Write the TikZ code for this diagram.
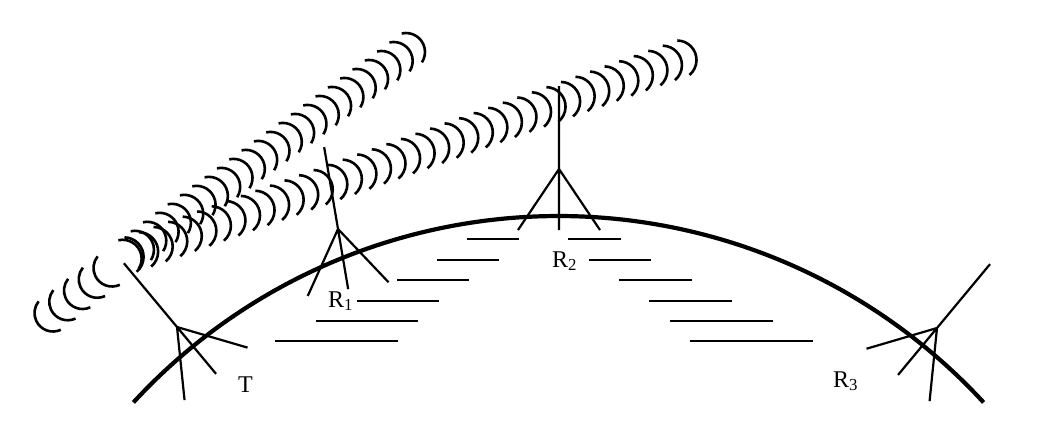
\documentclass[tikz,border=0pt]{standalone}
\usepackage{fontspec}
\setmainfont{Liberation Serif}
\begin{document}
\begin{tikzpicture}[x=1pt,y=1pt,yscale=-1,
  stroke/.style={line width=2.2pt},
  earth/.style={line width=4.2pt},
  wave/.style={line width=2.6pt},
  lab/.style={anchor=base west, inner sep=0pt, font=\fontsize{24}{26}\selectfont},
  antenna/.pic={\draw[stroke] (0pt,83pt) -- (0pt,-61pt) (-41pt,-61pt) -- (0pt,0pt) -- (41pt,-61pt);}
]
\useasboundingbox (0,0) rectangle (1041,423);

% earth surface
\draw[earth] (558.5,794) ++(-137.35:578pt) arc[start angle=-137.35, end angle=-42.65, radius=578pt];

% sea hatching
\foreach \y/\a/\b/\c/\d in {239/467/519/568/621, 260/437/499/589/651, 280/397/469/619/692,
                            301/357/439/649/732, 321/316/418/670/773, 341/275/398/690/813}{
  \draw[stroke] (\a,\y) -- (\b,\y);
  \draw[stroke] (\c,\y) -- (\d,\y);
}

% antennas
\pic[rotate=39.8] at (177,327) {antenna};
\pic[rotate=9.6] at (338,229) {antenna};
\pic at (559,169) {antenna};
\pic[rotate=-39.7] at (937,328) {antenna};

% upper wave train
\foreach \k in {0,...,23}{
  \draw[wave] ({406-12.32*\k},{52+8.99*\k}) ++(-103:19pt) arc[start angle=-103, end angle=33, radius=19pt];
}
% lower wave train
\foreach \k in {0,...,38}{
  \draw[wave] ({677-14.55*\k},{60+5.18*\k}) ++(-89:19.5pt) arc[start angle=-89, end angle=50, radius=19.5pt];
}
% backward wave fronts
\foreach \k in {0,...,4}{
  \draw[wave] ({112-14.75*\k},{268+11.25*\k}) ++(65:18.5pt) arc[start angle=65, end angle=219, radius=18.5pt];
}

% labels
\node[lab] (T) at (238,392) {T};
\node[lab] (R1) at (328,307) {R\textsubscript{1}};
\node[lab] (R2) at (552,267) {R\textsubscript{2}};
\node[lab] (R3) at (833,387) {R\textsubscript{3}};
\end{tikzpicture}
\end{document}
